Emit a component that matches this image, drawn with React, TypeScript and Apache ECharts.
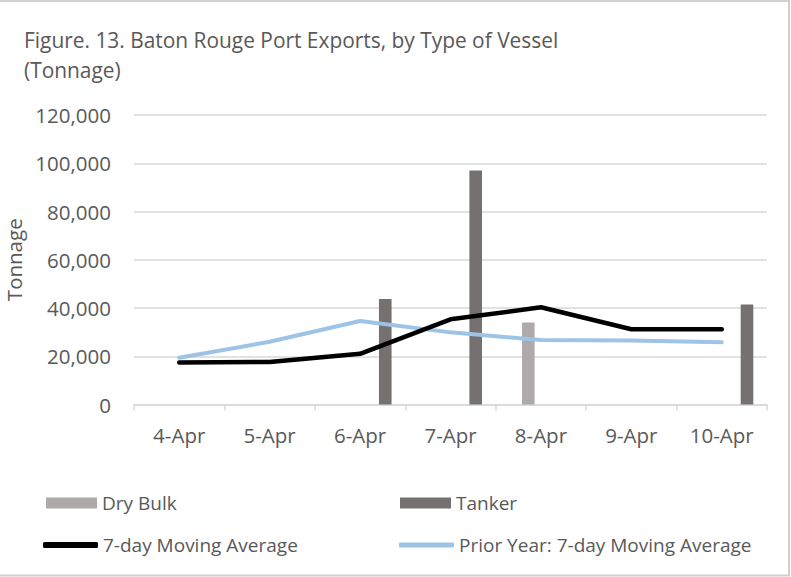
import React, { useEffect, useRef } from "react";
import * as echarts from "echarts";

const categories = ["4-Apr", "5-Apr", "6-Apr", "7-Apr", "8-Apr", "9-Apr", "10-Apr"];
const dryBulk = [null, null, null, null, 34000, null, null];
const tanker = [null, null, 43700, 97000, null, null, 41400];
const otherVesselA = [null, null, null, null, null, null, null];
const otherVesselB = [null, null, null, null, null, null, null];
const otherVesselC = [null, null, null, null, null, null, null];
const movingAvg = [17400, 17600, 21000, 35300, 40300, 31200, 31200];
const priorYearAvg = [19400, 26000, 34600, 29900, 26700, 26500, 25800];
const yTicks = { min: 0, max: 120000, interval: 20000 };

const FONT = "'Open Sans', 'Noto Sans', sans-serif";
const TXT = "#595959";

export default function App() {
  const ref = useRef<HTMLDivElement>(null);
  useEffect(() => {
    if (!ref.current) return;
    const chart = echarts.init(ref.current, null, { renderer: "svg" });
    const barBase = { type: "bar", barWidth: 12.6, barGap: "0%", z: 2 };
    const legendBase = {
      padding: 0,
      itemGap: 0,
      selectedMode: false,
      textStyle: { color: TXT, fontSize: 19, fontFamily: FONT, lineHeight: 20, padding: [0, 0, 0, 0] },
    };
    chart.setOption({
      animation: false,
      backgroundColor: "#ffffff",
      textStyle: { fontFamily: FONT },
      title: {
        text: "Figure. 13. Baton Rouge Port Exports, by Type of Vessel\n(Tonnage)",
        left: 24,
        top: 25,
        padding: 0,
        textStyle: { color: TXT, fontSize: 20.9, fontWeight: "normal", fontFamily: FONT, lineHeight: 30 },
      },
      grid: { left: 134, right: 24, top: 115, bottom: 172.5, outerBoundsMode: "none", containLabel: false },
      xAxis: {
        type: "category",
        data: categories,
        boundaryGap: true,
        axisLine: { show: true, lineStyle: { color: "#d9d9d9", width: 1.5 } },
        axisTick: { show: true, length: 6, lineStyle: { color: "#d9d9d9", width: 1.5 } },
        axisLabel: { color: TXT, fontSize: 20.5, fontFamily: FONT, margin: 20 },
        splitLine: { show: false },
      },
      yAxis: {
        type: "value",
        min: yTicks.min,
        max: yTicks.max,
        interval: yTicks.interval,
        name: "Tonnage",
        nameLocation: "middle",
        nameRotate: 90,
        nameGap: 110,
        nameTextStyle: { color: TXT, fontSize: 20.5, fontFamily: FONT },
        axisLine: { show: false },
        axisTick: { show: false },
        axisLabel: {
          color: TXT,
          fontSize: 20.5,
          fontFamily: FONT,
          margin: 23,
          formatter: (v: number) => v.toLocaleString("en-US"),
        },
        splitLine: { lineStyle: { color: "#d9d9d9", width: 1.5 } },
      },
      legend: [
        { ...legendBase, data: [{ name: "Dry Bulk", icon: "rect" }], left: 46, top: 493, itemWidth: 51, itemHeight: 11 },
        { ...legendBase, data: [{ name: "Tanker", icon: "rect" }], left: 400, top: 493, itemWidth: 51, itemHeight: 11 },
        { ...legendBase, data: [{ name: "7-day Moving Average", icon: "roundRect" }], left: 43, top: 535, itemWidth: 55, itemHeight: 6 },
        { ...legendBase, data: [{ name: "Prior Year: 7-day Moving Average", icon: "roundRect" }], left: 399, top: 535, itemWidth: 55, itemHeight: 5 },
      ],
      series: [
        { ...barBase, name: "Other A", data: otherVesselA, itemStyle: { color: "#5b9bd5" } },
        { ...barBase, name: "Dry Bulk", data: dryBulk, itemStyle: { color: "#AEAAAA" } },
        { ...barBase, name: "Other B", data: otherVesselB, itemStyle: { color: "#a5a5a5" } },
        { ...barBase, name: "Other C", data: otherVesselC, itemStyle: { color: "#ffc000" } },
        { ...barBase, name: "Tanker", data: tanker, itemStyle: { color: "#767171" } },
        {
          type: "line",
          name: "7-day Moving Average",
          data: movingAvg,
          symbol: "none",
          z: 4,
          itemStyle: { color: "#000000" },
          lineStyle: { color: "#000000", width: 4.5, cap: "round", join: "round" },
        },
        {
          type: "line",
          name: "Prior Year: 7-day Moving Average",
          data: priorYearAvg,
          symbol: "none",
          z: 3,
          itemStyle: { color: "#9DC3E6" },
          lineStyle: { color: "#9DC3E6", width: 4, cap: "round", join: "round" },
        },
      ],
      graphic: [
        {
          type: "rect",
          shape: { x: -2, y: 1, width: 791, height: 574.5 },
          style: { fill: "none", stroke: "#d0d0d0", lineWidth: 2 },
          silent: true,
        },
      ],
    });
    return () => chart.dispose();
  }, []);
  return <div ref={ref} style={{ position: "fixed", left: 0, top: 0, width: 791, height: 577 }} />;
}
